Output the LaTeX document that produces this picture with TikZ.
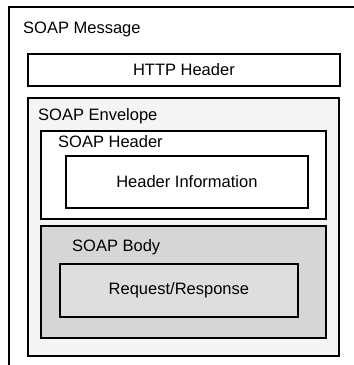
\documentclass[tikz,border=0pt]{standalone}
\usepackage{fontspec}
\setmainfont{Liberation Sans}
\begin{document}
\begin{tikzpicture}[x=1pt,y=-1pt,
  box/.style={draw=black, line width=1.8pt, rectangle, inner sep=0pt, anchor=north west,
    font=\fontsize{16.5}{19}\selectfont},
  lbl/.style={font=\fontsize{16.5}{19}\selectfont, inner sep=0pt, anchor=base west}]
\useasboundingbox (0,0) rectangle (354,365);
\draw[line width=1.5pt] (9,365) -- (9,7) -- (354,7);
\node[lbl] (msg) at (23,33) {SOAP Message};
\node[box, minimum width=312pt, minimum height=32pt] (http) at (27,53) {HTTP Header};
\node[box, fill=gray!8, minimum width=311pt, minimum height=258pt] (env) at (27,97) {};
\node[lbl] (envl) at (38,120) {SOAP Envelope};
\node[box, fill=white, minimum width=285pt, minimum height=88pt] (sh) at (40,130) {};
\node[lbl] (shl) at (58,147) {SOAP Header};
\node[box, fill=white, minimum width=242pt, minimum height=52pt] (hi) at (65,155) {Header Information};
\node[box, fill=gray!32, minimum width=285pt, minimum height=112pt] (sb) at (40,225) {};
\node[lbl] (sbl) at (72,251) {SOAP Body};
\node[box, fill=gray!26, minimum width=238pt, minimum height=53pt] (rr) at (59,263) {Request/Response};
\end{tikzpicture}
\end{document}
